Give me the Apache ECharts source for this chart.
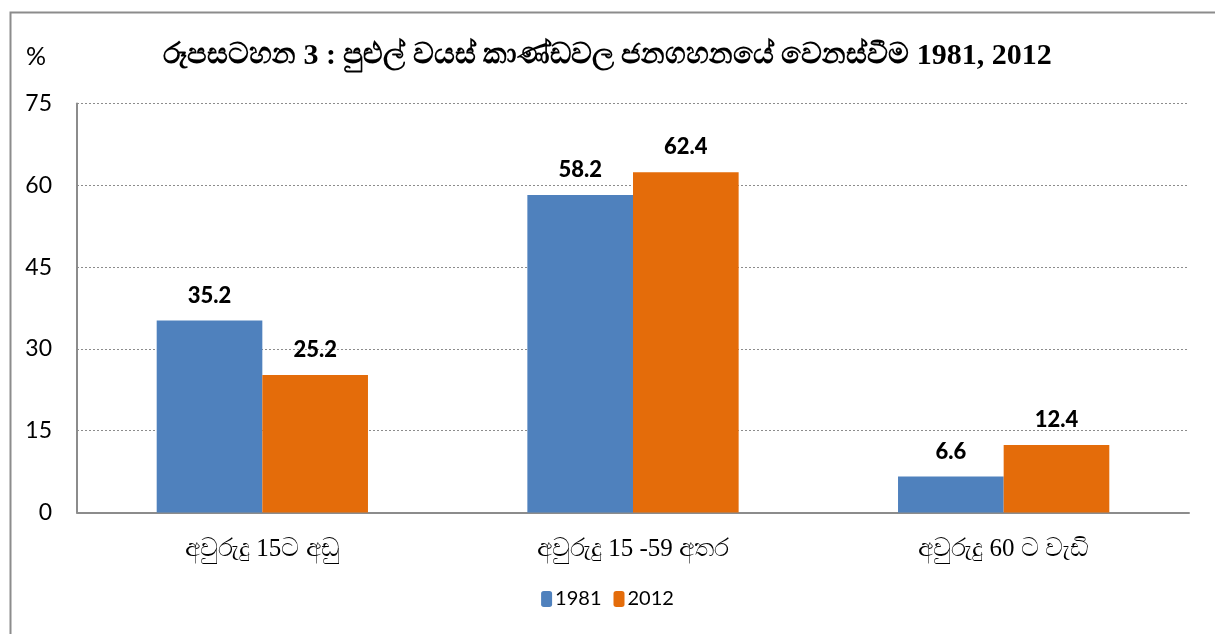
<!DOCTYPE html>
<html><head><meta charset="utf-8">
<script src="https://cdn.jsdelivr.net/npm/echarts@6/dist/echarts.min.js"></script>
<style>html,body{margin:0;padding:0;background:#fff}#c{width:1215px;height:634px}</style>
</head><body><div id="c"></div>
<script>
const categories = ['අවුරුදු 15ට අඩු', 'අවුරුදු 15 -59 අතර', 'අවුරුදු 60 ට වැඩි'];
const series1981 = [35.2, 58.2, 6.6];
const series2012 = [25.2, 62.4, 12.4];
const seriesNames = ['1981', '2012'];
const yTicks = {min: 0, max: 75, interval: 15};

const chart = echarts.init(document.getElementById('c'));
const labelFont = 'Lato, "Open Sans", sans-serif';
const serif = '"Liberation Serif", "DejaVu Serif", serif';
chart.setOption({
  animation: false,
  backgroundColor: '#fff',
  graphic: [
    {type: 'rect', left: 8, top: 10, shape: {width: 1220, height: 640},
     style: {fill: 'none', stroke: '#8c8c8c', lineWidth: 2}}
  ],
  title: [{
    text: '{s|රූපසටහන }{b|3 : }{s|පුළුල් වයස් කාණ්ඩවල ජනගහනයේ වෙනස්වීම }{b|1981, 2012}',
    left: 'center', top: 36,
    textStyle: {
      rich: {
        s: {fontFamily: serif, fontSize: 29, fontWeight: 'bold', color: '#000'},
        b: {fontFamily: serif, fontSize: 30, fontWeight: 'bold', color: '#000'}
      }
    }
  }, {
    text: '%', left: 21, top: 39,
    textStyle: {fontFamily: labelFont, fontSize: 25, fontWeight: 'normal', color: '#000'}
  }],
  legend: {
    bottom: 20, left: 'center',
    itemWidth: 11, itemHeight: 16, itemGap: 12,
    textStyle: {fontFamily: labelFont, fontSize: 20, color: '#000', padding: [0, 0, 0, -2]},
    data: seriesNames
  },
  grid: {left: 77, right: 26, top: 103.5, bottom: 121.5, containLabel: false},
  xAxis: {
    type: 'category', data: categories,
    axisLine: {lineStyle: {color: '#8c8c8c', width: 2}},
    axisTick: {show: false},
    axisLabel: {fontFamily: serif, fontSize: 25, color: '#000', margin: 24}
  },
  yAxis: {
    type: 'value', min: yTicks.min, max: yTicks.max, interval: yTicks.interval,
    axisLine: {show: true, lineStyle: {color: '#8c8c8c', width: 2}},
    axisTick: {show: false},
    axisLabel: {fontFamily: labelFont, fontSize: 23, color: '#000', margin: 25},
    splitLine: {lineStyle: {color: '#8c8c8c', type: [2, 2], width: 1}}
  },
  series: [
    {name: seriesNames[0], type: 'bar', data: series1981, barGap: '0%', barCategoryGap: '43%',
     itemStyle: {color: '#4F81BD'},
     label: {show: true, position: 'top', distance: 14, fontFamily: labelFont, fontWeight: 900, fontSize: 22, color: '#000'}},
    {name: seriesNames[1], type: 'bar', data: series2012, barGap: '0%', barCategoryGap: '43%',
     itemStyle: {color: '#E46C0A'},
     label: {show: true, position: 'top', distance: 14, fontFamily: labelFont, fontWeight: 900, fontSize: 22, color: '#000'}}
  ]
});
</script></body></html>
